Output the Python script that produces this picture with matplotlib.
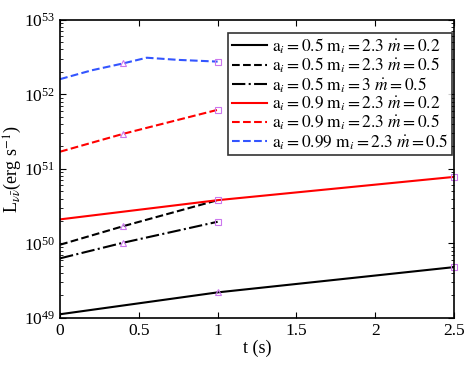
import matplotlib
matplotlib.use("Agg")
import matplotlib.pyplot as plt
from matplotlib.ticker import LogLocator, NullFormatter

plt.rcParams['font.family'] = ['Liberation Serif', 'DejaVu Serif']
plt.rcParams['mathtext.fontset'] = 'stix'

# t (s) and luminosity values
t_a = [0, 1, 2.5]
L_a = [1.12e49, 2.2e49, 4.8e49]          # ai=0.5 mi=2.3 mdot=0.2

t_b = [0, 0.4, 1]
L_b = [9.6e49, 1.7e50, 3.8e50]           # ai=0.5 mi=2.3 mdot=0.5

t_c = [0, 0.4, 1]
L_c = [6.3e49, 1.02e50, 1.95e50]         # ai=0.5 mi=3 mdot=0.5

t_d = [0, 1, 2.5]
L_d = [2.1e50, 3.8e50, 7.8e50]           # ai=0.9 mi=2.3 mdot=0.2

t_e = [0, 0.4, 1]
L_e = [1.7e51, 2.95e51, 6.2e51]          # ai=0.9 mi=2.3 mdot=0.5

t_f = [0, 0.2, 0.4, 0.55, 0.75, 1]
L_f = [1.6e52, 2.1e52, 2.6e52, 3.1e52, 2.9e52, 2.75e52]  # ai=0.99 mi=2.3 mdot=0.5

# marker points (triangles / squares)
tri_t = [1, 0.4, 0.4, 0.4, 0.4]
tri_L = [2.2e49, 1.7e50, 1.02e50, 2.95e51, 2.6e52]
sq_t = [2.5, 1, 1, 2.5, 1, 1]
sq_L = [4.8e49, 3.8e50, 1.95e50, 7.8e50, 6.2e51, 2.75e52]

labels = [
    r'$\mathrm{a}_i=0.5\ \mathrm{m}_i=2.3\ \dot{m}=0.2$',
    r'$\mathrm{a}_i=0.5\ \mathrm{m}_i=2.3\ \dot{m}=0.5$',
    r'$\mathrm{a}_i=0.5\ \mathrm{m}_i=3\ \dot{m}=0.5$',
    r'$\mathrm{a}_i=0.9\ \mathrm{m}_i=2.3\ \dot{m}=0.2$',
    r'$\mathrm{a}_i=0.9\ \mathrm{m}_i=2.3\ \dot{m}=0.5$',
    r'$\mathrm{a}_i=0.99\ \mathrm{m}_i=2.3\ \dot{m}=0.5$',
]

fig = plt.figure(figsize=(4.66, 3.74), dpi=100)
ax = fig.add_axes([0.129, 0.150, 0.845, 0.797])

ax.plot(t_a, L_a, 'k-', lw=1.5, label=labels[0])
ax.plot(t_b, L_b, 'k--', lw=1.5, label=labels[1])
ax.plot(t_c, L_c, 'k-.', lw=1.5, label=labels[2])
ax.plot(t_d, L_d, '-', color='red', lw=1.5, label=labels[3])
ax.plot(t_e, L_e, '--', color='red', lw=1.5, label=labels[4])
ax.plot(t_f, L_f, '--', color='#3355ff', lw=1.5, label=labels[5])

mcol = '#cc77ee'
ax.plot(tri_t, tri_L, '^', ms=4, mfc='none', mec=mcol, mew=0.8, ls='none', clip_on=False)
ax.plot(sq_t, sq_L, 's', ms=4, mfc='none', mec=mcol, mew=0.8, ls='none', clip_on=False)

ax.set_yscale('log')
ax.set_xlim(0, 2.5)
ax.set_ylim(1e49, 1e53)
ax.set_xticks([0, 0.5, 1, 1.5, 2, 2.5])
ax.set_xticklabels(['0', '0.5', '1', '1.5', '2', '2.5'])
ax.yaxis.set_major_locator(LogLocator(base=10, numticks=10))
ax.yaxis.set_minor_locator(LogLocator(base=10, subs=range(2, 10), numticks=20))
ax.yaxis.set_minor_formatter(NullFormatter())
ax.tick_params(which='both', direction='in', top=True, right=True, labelsize=12.5)
ax.tick_params(which='major', length=4)
ax.tick_params(which='minor', length=2)
for s in ax.spines.values():
    s.set_linewidth(1.2)

ax.set_xlabel('t (s)', fontsize=13, labelpad=1)
ax.set_ylabel(r'L$_{\nu\bar{\nu}}$(erg s$^{-1}$)', fontsize=13, labelpad=0)

leg = ax.legend(loc='upper right', bbox_to_anchor=(0.995, 0.956), fontsize=12.5,
                frameon=True, fancybox=False, edgecolor='black', handlelength=2.0,
                handletextpad=0.3, labelspacing=0.0, borderpad=0.2, borderaxespad=0.0)
leg.get_frame().set_linewidth(1.2)

fig.savefig('out.png', dpi=100)
